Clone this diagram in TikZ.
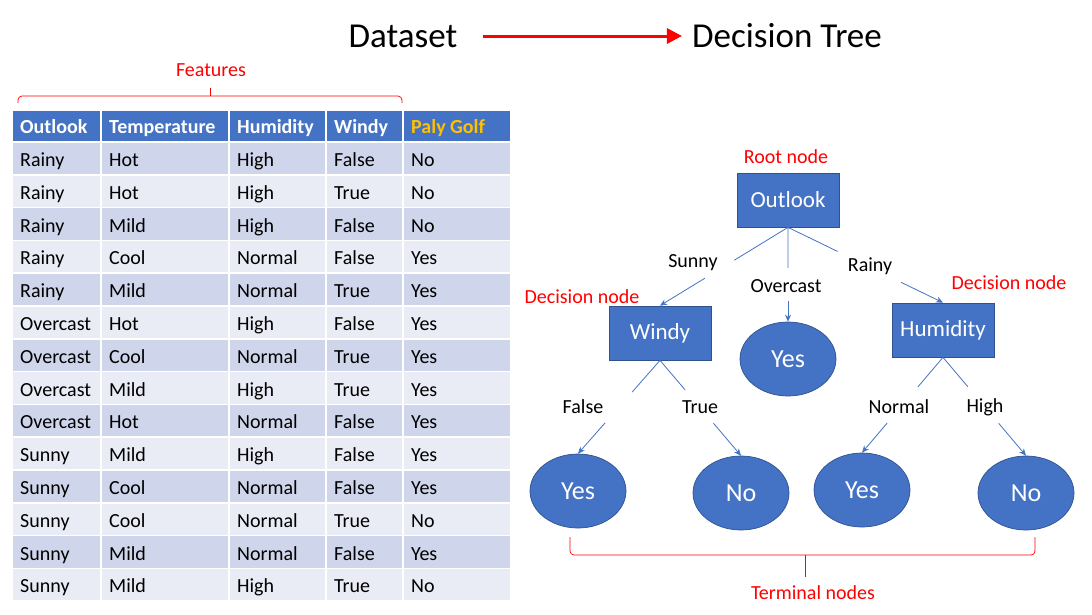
\documentclass[tikz,border=0pt]{standalone}
\usepackage{fontspec}
\setmainfont{Carlito}
\usepackage{xcolor}
\usetikzlibrary{positioning,shapes.geometric,arrows.meta}

\definecolor{nodeblue}{HTML}{4472C4}
\definecolor{nodeedge}{HTML}{2F528F}
\definecolor{rowdark}{HTML}{CFD5EA}
\definecolor{rowlight}{HTML}{E9EBF5}
\definecolor{golfgold}{HTML}{FFC000}

\begin{document}
\begin{tikzpicture}[x=1pt, y=-1pt, on grid,
	box/.style={rectangle, fill=nodeblue, draw=nodeedge, line width=0.7pt, minimum width=102pt, minimum height=54pt, text=white, font=\fontsize{23}{27}\selectfont},
	leaf/.style={ellipse, fill=nodeblue, draw=nodeedge, line width=0.7pt, minimum width=96pt, minimum height=74pt, inner sep=0pt, text=white, font=\fontsize{26}{30}\selectfont},
	branch/.style={font=\fontsize{20}{24}\selectfont},
	note/.style={text=red, font=\fontsize{20}{24}\selectfont},
	title/.style={inner sep=0pt, font=\fontsize{35}{42}\selectfont},
	link/.style={draw=nodeblue, line width=0.8pt},
	linkarrow/.style={link, -{Stealth[length=7pt, width=6pt]}},
	cell/.style={anchor=base west, inner sep=0pt, font=\fontsize{20}{24}\selectfont},
	brace/.style={draw=red, line width=0.7pt, rounded corners=4pt}]
	
	\fill[white] (0,0) rectangle (1092,614);
	\useasboundingbox (0,0) rectangle (1092,614);
	
	% titles
	\node[title] (dataset) at (403,36) {Dataset};
	\node[title] (dtree) at (787,36) {Decision Tree};
	\draw[red, line width=3pt, -{Triangle[length=15pt, width=15pt]}, shorten <=25pt, shorten >=10pt] (dataset.east) -- (dtree.west);
	
	% table
	\def\colx{{12,101,229,326,403,511}}
	\foreach \h [count=\c] in {Outlook,Temperature,Humidity,Windy,Paly Golf}{
		\pgfmathsetmacro\xl{\colx[\c-1]}
		\pgfmathsetmacro\xr{\colx[\c]}
		\filldraw[fill=nodeblue, draw=white, line width=1.5pt] (\xl,110) rectangle (\xr,142);
		\ifnum\c=5 \def\hcol{golfgold}\else\def\hcol{white}\fi
		\node[cell, text=\hcol, font=\fontsize{20}{24}\selectfont\bfseries] (h\c) at (\xl+8,133.5) {\h};
	}
	\foreach \row [count=\r] in {{Rainy,Hot,High,False,No},{Rainy,Hot,High,True,No},{Rainy,Mild,High,False,No},{Rainy,Cool,Normal,False,Yes},{Rainy,Mild,Normal,True,Yes},{Overcast,Hot,High,False,Yes},{Overcast,Cool,Normal,True,Yes},{Overcast,Mild,High,True,Yes},{Overcast,Hot,Normal,False,Yes},{Sunny,Mild,High,False,Yes},{Sunny,Cool,Normal,False,Yes},{Sunny,Cool,Normal,True,No},{Sunny,Mild,Normal,False,Yes},{Sunny,Mild,High,True,No}}{
		\pgfmathsetmacro\yt{142+(\r-1)*32.8}
		\ifodd\r \def\rcol{rowdark}\else\def\rcol{rowlight}\fi
		\foreach \v [count=\c] in \row {
			\pgfmathsetmacro\xl{\colx[\c-1]}
			\pgfmathsetmacro\xr{\colx[\c]}
			\filldraw[fill=\rcol, draw=white, line width=1.5pt] (\xl,\yt) rectangle (\xr,\yt+32.8);
			\node[cell] (c\r-\c) at (\xl+8,\yt+24.4) {\v};
		}
	}
	
	% features brace
	\draw[brace] (18,103) -- (18,96) -- (402,96) -- (402,103);
	\draw[brace] (210,96) -- (210,88);
	\node[note] (features) at (211,70) {Features};
	
	% tree
	\node[box] (root) at (788,200) {Outlook};
	\node[box, below left=133pt and 128pt of root] (windy) {Windy};
	\node[box, below right=130pt and 155pt of root] (humidity) {Humidity};
	\node[leaf, below=159pt of root] (yes1) {Yes};
	\node[leaf, below left=158pt and 82pt of windy] (yes2) {Yes};
	\node[leaf, below right=160pt and 81pt of windy] (no1) {No};
	\node[leaf, below left=160pt and 81pt of humidity] (yes3) {Yes};
	\node[leaf, below right=163pt and 83pt of humidity] (no2) {No};
	
	\node[branch] (sunny) at (693,263) {Sunny};
	\node[branch] (overcast) at (786,286) {Overcast};
	\node[branch] (rainy) at (870,266) {Rainy};
	\node[branch] (false) at (583,407) {False};
	\node[branch] (true) at (700,407) {True};
	\node[branch] (normal) at (899,407) {Normal};
	\node[branch] (high) at (985,407) {High};
	
	\node[note] (rootnote) at (786,157) {Root node};
	\node[note] (decleft) at (582,297) {Decision node};
	\node[note] (decright) at (1009,283) {Decision node};
	
	% edges, broken where the labels sit
	\path (root.south) -- (windy.north) coordinate[pos=.42] (sunnyA) coordinate[pos=.65] (sunnyB);
	\path (root.south) -- (yes1.north) coordinate[pos=.43] (overA) coordinate[pos=.78] (overB);
	\path (root.south) -- (humidity.north) coordinate[pos=.32] (rainyA) coordinate[pos=.73] (rainyB);
	\path (windy.south) -- (yes2.north) coordinate[pos=.34] (falseA) coordinate[pos=.67] (falseB);
	\path (windy.south) -- (no1.north) coordinate[pos=.31] (trueA) coordinate[pos=.66] (trueB);
	\path (humidity.south) -- (yes3.north) coordinate[pos=.31] (normalA) coordinate[pos=.69] (normalB);
	\path (humidity.south) -- (no2.north) coordinate[pos=.30] (highA) coordinate[pos=.67] (highB);
	
	\draw[link] (root.south) -- (sunnyA) (root.south) -- (overA) (root.south) -- (rainyA)
	(windy.south) -- (falseA) (windy.south) -- (trueA)
	(humidity.south) -- (normalA) (humidity.south) -- (highA);
	\draw[linkarrow] (sunnyB) -- (windy.north);
	\draw[linkarrow] (overB) -- (yes1.north);
	\draw[linkarrow] (rainyB) -- (humidity.north);
	\draw[linkarrow] (falseB) -- (yes2.north);
	\draw[linkarrow] (trueB) -- (no1.north);
	\draw[linkarrow] (normalB) -- (yes3.north);
	\draw[linkarrow] (highB) -- (no2.north);
	
	% terminal brace
	\draw[brace] (570,537) -- (570,555) -- (1035,555) -- (1035,537);
	\draw[brace] (805,555) -- (805,577);
	\node[note] (terminal) at (813,593) {Terminal nodes};
\end{tikzpicture}
\end{document}
